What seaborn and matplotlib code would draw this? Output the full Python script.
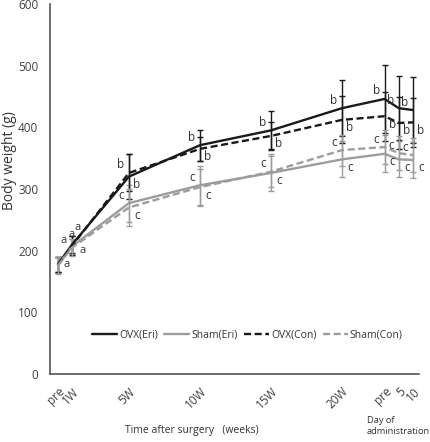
import matplotlib
matplotlib.use("Agg")
import matplotlib.pyplot as plt
import seaborn as sns
import numpy as np
import pandas as pd

# positions on the x axis (weeks after surgery, then days of administration)
x_pos = [0, 1, 5, 10, 15, 20, 23, 24, 25]
x_labels = ["pre", "1W", "5W", "10W", "15W", "20W", "pre", "5", "10"]

# mean body weight (g)
ovx_eri = [178, 210, 320, 371, 395, 431, 446, 431, 428]
sham_eri = [176, 207, 277, 306, 326, 348, 357, 348, 347]
ovx_con = [177, 208, 326, 365, 386, 412, 418, 407, 408]
sham_con = [176, 205, 270, 303, 328, 363, 368, 358, 355]

# standard deviations (g)
ovx_eri_sd = [12, 14, 37, 25, 32, 45, 55, 52, 53]
sham_eri_sd = [13, 12, 30, 32, 30, 29, 30, 29, 29]
ovx_con_sd = [12, 15, 30, 20, 22, 38, 40, 42, 40]
sham_con_sd = [14, 14, 30, 30, 25, 25, 28, 28, 28]

series_names = ["OVX(Eri)", "Sham(Eri)", "OVX(Con)", "Sham(Con)"]

BLACK = "#1a1a1a"
GRAY = "#9c9c9c"
TXT = "#333333"

sns.set_theme(style="white")
plt.rcParams['font.family'] = ['Open Sans', 'DejaVu Sans']

rows = []
for name, vals in zip(series_names, [ovx_eri, sham_eri, ovx_con, sham_con]):
    for xp, v in zip(x_pos, vals):
        rows.append({"x": xp, "weight": v, "group": name})
df = pd.DataFrame(rows)

fig = plt.figure(figsize=(4.31, 4.42), dpi=100)
ax = fig.add_axes([0.116, 0.154, 0.856, 0.837])

# error bars first, lines on top
sds = [ovx_eri_sd, sham_eri_sd, ovx_con_sd, sham_con_sd]
means = [ovx_eri, sham_eri, ovx_con, sham_con]
colors = [BLACK, GRAY, BLACK, GRAY]
for m, s, c in zip(means, sds, colors):
    ax.errorbar(x_pos, m, yerr=s, fmt="none", ecolor=c, elinewidth=1.0,
                capsize=2, capthick=1.0, zorder=2)

sns.lineplot(data=df, x="x", y="weight", hue="group", style="group",
             hue_order=series_names, style_order=series_names,
             palette={"OVX(Eri)": BLACK, "Sham(Eri)": GRAY,
                      "OVX(Con)": BLACK, "Sham(Con)": GRAY},
             dashes={"OVX(Eri)": "", "Sham(Eri)": "",
                     "OVX(Con)": (3, 1.5), "Sham(Con)": (3, 1.5)},
             linewidth=1.7, ax=ax, zorder=3, legend=True)

# significance letters
pairs = [(ovx_eri, ovx_con, "b"), (sham_eri, sham_con, "c")]
for hi_s, lo_s, letter in pairs:
    for i in range(2, len(x_pos)):
        hi = max(hi_s[i], lo_s[i])
        lo = min(hi_s[i], lo_s[i])
        ax.annotate(letter, (x_pos[i], hi), xytext=(-8, 8), textcoords="offset pixels",
                    ha="center", va="center", fontsize=8.5, color=TXT)
        ax.annotate(letter, (x_pos[i], lo), xytext=(8, -8), textcoords="offset pixels",
                    ha="center", va="center", fontsize=8.5, color=TXT)

ax.annotate("a", (x_pos[0], ovx_eri[0]), xytext=(9, 0), textcoords="offset pixels",
            ha="center", va="center", fontsize=8, color=TXT)
a_offsets = [(-9, 4), (10, -4), (-1, 11), (5, 20)]
for vals, off in zip([ovx_eri, sham_eri, ovx_con, sham_con], a_offsets):
    ax.annotate("a", (x_pos[1], vals[1]), xytext=off, textcoords="offset pixels",
                ha="center", va="center", fontsize=8, color=TXT)

ax.set_xlim(-0.56, 25.42)
ax.set_ylim(0, 600)
ax.set_yticks(range(0, 601, 100))
ax.set_xticks(x_pos)
ax.set_xticklabels(x_labels, rotation=45, ha="right", va="top", rotation_mode="anchor")
ax.tick_params(axis="y", length=0, labelsize=8.5, colors="#404040", pad=8.5)
ax.tick_params(axis="x", length=0, labelsize=8.5, colors="#404040", pad=8)

for side in ["top", "right"]:
    ax.spines[side].set_visible(False)
for side in ["left", "bottom"]:
    ax.spines[side].set_color("#555555")
    ax.spines[side].set_linewidth(1.2)

ax.set_xlabel("")
ax.set_ylabel("Body weight (g)", fontsize=10, color=TXT)
ax.yaxis.set_label_coords(-0.089, 0.578)

handles, labels = ax.get_legend_handles_labels()
ax.legend(handles, labels, loc="center", bbox_to_anchor=(0.535, 0.105), ncol=4,
          frameon=False, fontsize=7.5, handlelength=2.4, handletextpad=0.2,
          columnspacing=0.6, labelcolor=TXT)

fig.text(0.446, 0.027, "Time after surgery   (weeks)", fontsize=7.5, color=TXT,
         ha="center", va="center")
fig.text(0.851, 0.036, "Day of\nadministration", fontsize=6.7, color=TXT,
         ha="left", va="center", linespacing=1.4)

fig.savefig("out.png", dpi=100)
